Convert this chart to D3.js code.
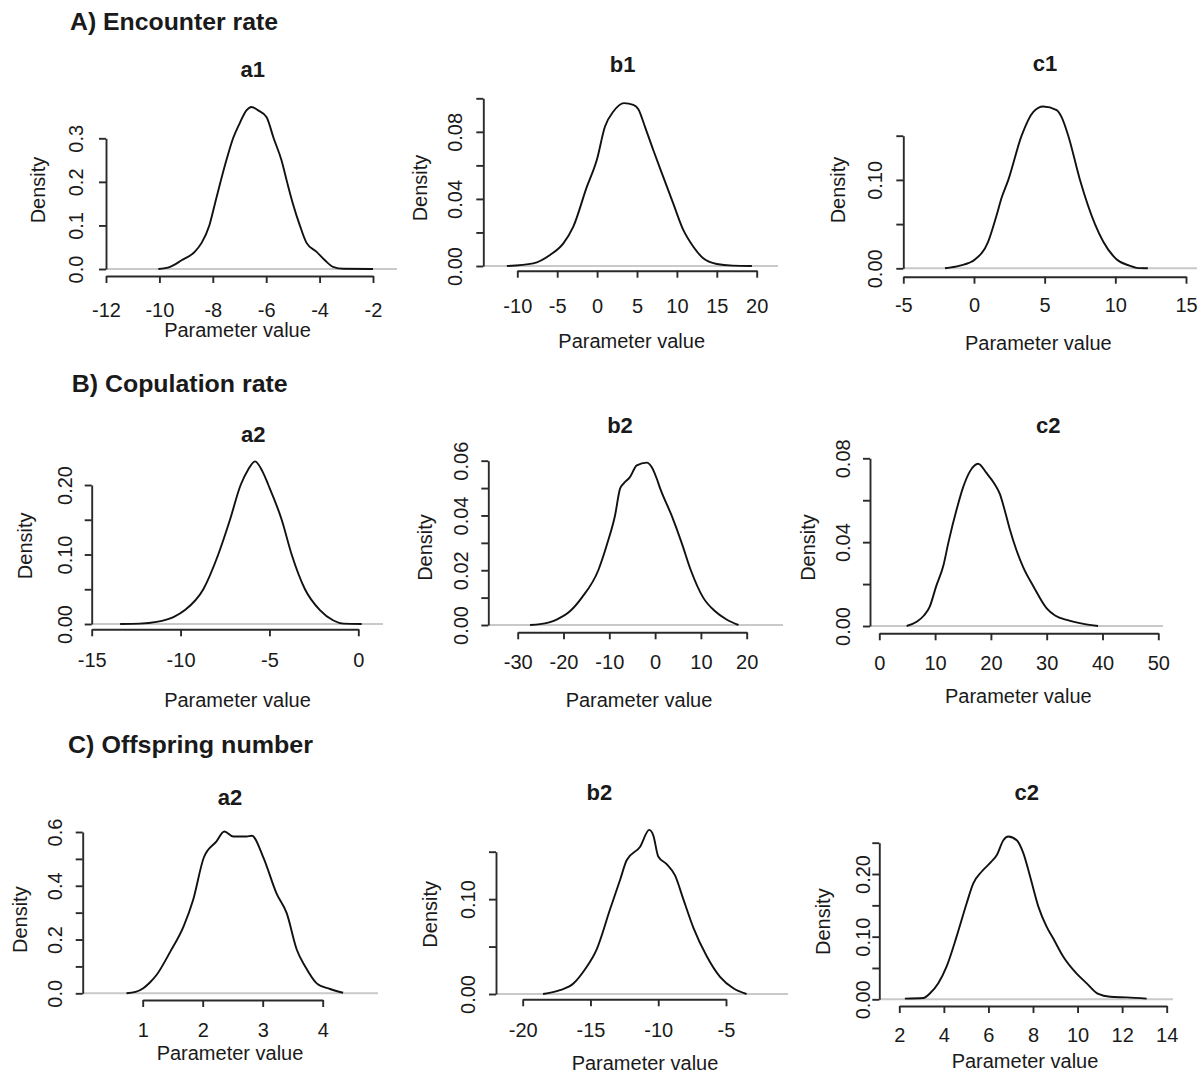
<!DOCTYPE html>
<html><head><meta charset="utf-8">
<script src="https://cdn.jsdelivr.net/npm/d3@7"></script>
<style>
body{margin:0;background:#fff}
svg{display:block}
text{font-family:"Liberation Sans",Arial,Helvetica,sans-serif;fill:#1a1a1a}
</style>
</head><body>
<svg id="chart" width="1202" height="1075"></svg>
<script>
// ---------------- DATA ----------------
const groupTitles = ["A) Encounter rate", "B) Copulation rate", "C) Offspring number"];
const panelTitles = ["a1", "b1", "c1", "a2", "b2", "c2", "a2", "b2", "c2"];
const xLabel = "Parameter value";
const yLabel = "Density";

const xTicks = [
  [-12, -10, -8, -6, -4, -2],
  [-10, -5, 0, 5, 10, 15, 20],
  [-5, 0, 5, 10, 15],
  [-15, -10, -5, 0],
  [-30, -20, -10, 0, 10, 20],
  [0, 10, 20, 30, 40, 50],
  [1, 2, 3, 4],
  [-20, -15, -10, -5],
  [2, 4, 6, 8, 10, 12, 14]
];
const yTicks = [
  [0, 0.1, 0.2, 0.3],
  [0, 0.02, 0.04, 0.06, 0.08, 0.10],
  [0, 0.05, 0.10, 0.15],
  [0, 0.05, 0.10, 0.15, 0.20],
  [0, 0.01, 0.02, 0.03, 0.04, 0.05, 0.06],
  [0, 0.02, 0.04, 0.06, 0.08],
  [0, 0.1, 0.2, 0.3, 0.4, 0.5, 0.6],
  [0, 0.05, 0.10, 0.15],
  [0, 0.05, 0.10, 0.15, 0.20, 0.25]
];
const yTickLabels = [
  ["0.0", "0.1", "0.2", "0.3"],
  ["0.00", "", "0.04", "", "0.08", ""],
  ["0.00", "", "0.10", ""],
  ["0.00", "", "0.10", "", "0.20"],
  ["0.00", "", "0.02", "", "0.04", "", "0.06"],
  ["0.00", "", "0.04", "", "0.08"],
  ["0.0", "", "0.2", "", "0.4", "", "0.6"],
  ["0.00", "", "0.10", ""],
  ["0.00", "", "0.10", "", "0.20", ""]
];

// A) Encounter rate
const encA1Param = [-10.04, -9.6, -9.17, -8.67, -8.42, -8.13, -7.92, -7.49, -7.24, -6.99, -6.74, -6.55, -6.3, -5.99, -5.72, -5.43, -5.22, -5.0, -4.74, -4.49, -4.12, -3.8, -3.5, -3.1, -2.0];
const encA1Dens  = [0.0, 0.005, 0.02, 0.04, 0.06, 0.10, 0.15, 0.25, 0.30, 0.335, 0.364, 0.372, 0.364, 0.349, 0.30, 0.25, 0.20, 0.15, 0.10, 0.06, 0.04, 0.02, 0.005, 0.0005, 0.0];
const encB1Param = [-11.3, -8.0, -5.9, -4.23, -2.98, -1.3, -0.05, 0.99, 2.04, 3.37, 4.54, 5.17, 6.0, 7.05, 8.3, 9.56, 10.8, 12.06, 13.3, 15.0, 17.0, 19.4];
const encB1Dens  = [0.0, 0.0016, 0.0066, 0.0135, 0.0235, 0.047, 0.063, 0.0832, 0.0921, 0.0971, 0.0961, 0.0935, 0.083, 0.069, 0.053, 0.037, 0.0215, 0.0115, 0.0046, 0.0012, 0.0002, 0.0];
const encC1Param = [-2.05, -1.0, 0.07, 1.0, 1.6, 1.96, 2.43, 3.37, 4.2, 4.9, 5.85, 6.2, 6.67, 7.5, 8.56, 9.15, 10.1, 11.0, 11.5, 12.3];
const encC1Dens  = [0.0, 0.003, 0.01, 0.03, 0.06, 0.08, 0.10, 0.15, 0.177, 0.183, 0.179, 0.171, 0.15, 0.10, 0.05, 0.03, 0.01, 0.003, 0.0005, 0.0];

// B) Copulation rate
const copA2Param = [-13.4, -12.3, -11.35, -10.4, -9.75, -8.72, -7.88, -7.22, -6.62, -6.2, -5.81, -5.4, -5.06, -4.31, -3.75, -3.0, -2.16, -1.4, -0.84, 0.19];
const copA2Dens  = [0.0, 0.0005, 0.003, 0.01, 0.02, 0.05, 0.10, 0.15, 0.20, 0.222, 0.234, 0.22, 0.20, 0.15, 0.10, 0.05, 0.02, 0.005, 0.0005, 0.0];
const copB2Param = [-27.3, -25.1, -21.5, -18.6, -16.0, -12.4, -10.4, -8.75, -7.65, -6.9, -5.5, -4.0, -1.83, -0.75, 0.35, 1.08, 3.6, 5.8, 7.8, 10.5, 13.1, 15.6, 18.2];
const copB2Dens  = [0.0, 0.0003, 0.002, 0.005, 0.01, 0.02, 0.03, 0.04, 0.0498, 0.0516, 0.054, 0.0583, 0.0593, 0.0577, 0.0535, 0.05, 0.04, 0.03, 0.02, 0.01, 0.005, 0.002, 0.0];
const copC2Param = [4.9, 6.7, 8.0, 9.0, 10.2, 11.5, 12.4, 13.9, 15.0, 16.3, 17.7, 19.2, 20.6, 21.6, 22.5, 23.4, 24.6, 25.8, 27.6, 30.0, 31.5, 33.6, 36.6, 39.2];
const copC2Dens  = [0.0, 0.002, 0.005, 0.009, 0.019, 0.029, 0.04, 0.056, 0.066, 0.074, 0.0774, 0.073, 0.068, 0.063, 0.055, 0.046, 0.036, 0.028, 0.019, 0.0084, 0.005, 0.0029, 0.001, 0.0];

// C) Offspring number
const offA2Param = [0.73, 0.88, 1.01, 1.12, 1.23, 1.46, 1.68, 1.84, 2.02, 2.23, 2.36, 2.51, 2.73, 2.82, 3.01, 3.23, 3.4, 3.57, 3.71, 3.9, 4.12, 4.34];
const offA2Dens  = [0.0, 0.005, 0.019, 0.04, 0.068, 0.155, 0.248, 0.347, 0.506, 0.565, 0.602, 0.583, 0.583, 0.586, 0.506, 0.372, 0.298, 0.161, 0.099, 0.037, 0.016, 0.002];
const offB2Param = [-18.5, -17.25, -16.26, -15.4, -14.54, -13.56, -12.8, -12.33, -11.35, -10.66, -10.36, -10.0, -9.38, -8.76, -8.15, -7.41, -6.43, -5.44, -4.46, -3.48];
const offB2Dens  = [0.0, 0.004, 0.011, 0.026, 0.047, 0.089, 0.121, 0.141, 0.155, 0.173, 0.167, 0.145, 0.137, 0.125, 0.100, 0.070, 0.040, 0.018, 0.006, 0.0];
const offC2Param = [2.25, 3.08, 3.38, 3.75, 4.12, 4.57, 5.02, 5.32, 5.7, 6.14, 6.37, 6.67, 6.89, 7.27, 7.57, 7.87, 8.24, 8.61, 8.91, 9.36, 9.96, 10.41, 10.93, 11.46, 12.2, 13.1];
const offC2Dens  = [0.001, 0.002, 0.0096, 0.0255, 0.052, 0.1, 0.153, 0.185, 0.204, 0.22, 0.23, 0.254, 0.26, 0.254, 0.233, 0.196, 0.148, 0.116, 0.097, 0.068, 0.041, 0.0255, 0.0085, 0.004, 0.003, 0.001];

const curveParams = [encA1Param, encB1Param, encC1Param, copA2Param, copB2Param, copC2Param, offA2Param, offB2Param, offC2Param];
const curveDens   = [encA1Dens, encB1Dens, encC1Dens, copA2Dens, copB2Dens, copC2Dens, offA2Dens, offB2Dens, offC2Dens];

// ---------------- LAYOUT (pixel positions) ----------------
const groupLayout = [
  {x: 70, y: 30, w: 208},
  {x: 71.7, y: 392, w: 216},
  {x: 68, y: 753, w: 245}
];
const layout = [
  {ax:106,   xa:276,   xr:[106,373],     yr:[269,138.3],   right:397,  tx:252.7, ty:77,    tl:316.7, atx:237.5, aty:337.3, ylx:83.3,  dx:45,    dy:190},
  {ax:483.3, xa:270.7, xr:[517.3,756.7], yr:[266,98.3],    right:778,  tx:622.7, ty:71.7,  tl:312.7, atx:631.7, aty:348,   ylx:461.7, dx:426.7, dy:188},
  {ax:903.3, xa:276.7, xr:[903.3,1186],  yr:[268.3,135.7], right:1197, tx:1045,  ty:70.7,  tl:311.7, atx:1038.3,aty:350,   ylx:881.7, dx:845,   dy:190},
  {ax:91.7,  xa:629.3, xr:[91.7,358.3],  yr:[624,485],     right:383,  tx:253.3, ty:441.7, tl:666.7, atx:237.5, aty:706.7, ylx:71.7,  dx:31.7,  dy:545.8},
  {ax:488.3, xa:632.3, xr:[517.7,746.7], yr:[625,460.7],   right:783,  tx:620,   ty:433,   tl:669.3, atx:639,   aty:706.7, ylx:468.3, dx:431.7, dy:547.5},
  {ax:870,   xa:633.3, xr:[879.3,1158.3],yr:[626,458.3],   right:1163, tx:1048.3,ty:433,   tl:670,   atx:1018.3,aty:703.3, ylx:850,   dx:815,   dy:547.5},
  {ax:82.7,  xa:1000,  xr:[142.7,322.7], yr:[993.3,832],   right:378,  tx:230,   ty:805,   tl:1036.7,atx:230,   aty:1060,  ylx:61.7,  dx:26.7,  dy:919.7},
  {ax:496,   xa:999.3, xr:[522.7,726],   yr:[994,851.7],   right:788,  tx:599.3, ty:800,   tl:1036.7,atx:645,   aty:1070,  ylx:475,   dx:436.7, dy:914.3},
  {ax:879.3, xa:1006,  xr:[899.3,1166.7],yr:[999.3,842.7], right:1173, tx:1026.7,ty:800,   tl:1041.7,atx:1025,  aty:1068.3,ylx:870,   dx:830,   dy:921.7}
];

const AXIS_COLOR = "#2a2a2a";
const FS = 20;

const svg = d3.select("#chart");
svg.append("rect").attr("width", 1202).attr("height", 1075).attr("fill", "#fff");

// group headers
groupTitles.forEach((t, i) => {
  const g = groupLayout[i];
  svg.append("text")
    .attr("x", g.x).attr("y", g.y)
    .attr("font-size", 24).attr("font-weight", "bold")
    .attr("textLength", g.w).attr("lengthAdjust", "spacingAndGlyphs")
    .text(t);
});

panelTitles.forEach((title, i) => {
  const L = layout[i];
  const xt = xTicks[i], yt = yTicks[i];
  const x = d3.scaleLinear().domain([xt[0], xt[xt.length - 1]]).range(L.xr);
  const y = d3.scaleLinear().domain([yt[0], yt[yt.length - 1]]).range(L.yr);
  const g = svg.append("g");

  // zero line (gray)
  g.append("line")
    .attr("x1", L.ax).attr("x2", L.right)
    .attr("y1", y(0)).attr("y2", y(0))
    .attr("stroke", "#c9c9c9").attr("stroke-width", 2);

  // density curve
  const pts = curveParams[i].map((p, k) => [p, curveDens[i][k]]);
  const line = d3.line().x(d => x(d[0])).y(d => y(d[1])).curve(d3.curveMonotoneX);
  g.append("path").attr("d", line(pts))
    .attr("fill", "none").attr("stroke", "#111").attr("stroke-width", 1.9)
    .attr("stroke-linejoin", "round");

  // x axis
  const xAxis = d3.axisBottom(x).tickValues(xt).tickSize(7).tickSizeOuter(0)
    .tickFormat(d => String(d).replace("-", "-"));
  const gx = g.append("g").attr("transform", `translate(0,${L.xa})`).call(xAxis);
  gx.attr("font-size", null).attr("font-family", null);
  gx.select(".domain").attr("stroke", AXIS_COLOR).attr("stroke-width", 1.9);
  gx.selectAll(".tick line").attr("stroke", AXIS_COLOR).attr("stroke-width", 1.9);
  gx.selectAll(".tick text")
    .attr("y", L.tl - L.xa).attr("dy", 0)
    .attr("font-size", FS).attr("fill", "#1a1a1a");

  // y axis
  const yAxis = d3.axisLeft(y).tickValues(yt).tickSize(7).tickSizeOuter(0)
    .tickFormat((d, k) => yTickLabels[i][k]);
  const gy = g.append("g").attr("transform", `translate(${L.ax},0)`).call(yAxis);
  gy.attr("font-size", null).attr("font-family", null);
  gy.select(".domain").attr("stroke", AXIS_COLOR).attr("stroke-width", 1.9);
  gy.selectAll(".tick line").attr("stroke", AXIS_COLOR).attr("stroke-width", 1.9);
  gy.selectAll(".tick text")
    .attr("x", 0).attr("dy", 0)
    .attr("transform", `translate(${L.ylx - L.ax},0) rotate(-90)`)
    .attr("text-anchor", "middle")
    .attr("font-size", FS).attr("fill", "#1a1a1a");

  // panel title
  g.append("text").attr("x", L.tx).attr("y", L.ty)
    .attr("text-anchor", "middle").attr("font-size", 22).attr("font-weight", "bold")
    .text(title);

  // axis titles
  g.append("text").attr("x", L.atx).attr("y", L.aty)
    .attr("text-anchor", "middle").attr("font-size", FS)
    .text(xLabel);
  g.append("text")
    .attr("transform", `translate(${L.dx},${L.dy}) rotate(-90)`)
    .attr("text-anchor", "middle").attr("font-size", FS)
    .text(yLabel);
});
</script>
</body></html>
